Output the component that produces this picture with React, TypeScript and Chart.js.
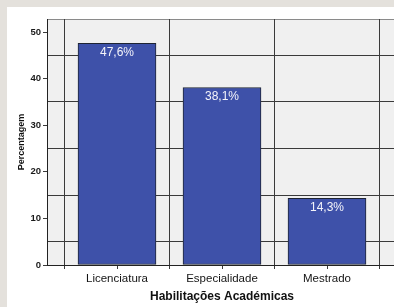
import React, { useEffect, useRef } from 'react';
import { Chart, registerables } from 'chart.js';

Chart.register(...registerables);

const categories: string[] = ['Licenciatura', 'Especialidade', 'Mestrado'];
const percentages: number[] = [47.6, 38.1, 14.3];
const yTickLabels: number[] = [0, 10, 20, 30, 40, 50];
const yGridValues: number[] = [5, 15, 25, 35, 45];
const yMax = 52.8;
const xTitle = 'Habilitações Académicas';
const yTitle = 'Percentagem';

const FONT = "'Liberation Sans', Arial, sans-serif";
const DARK = '#3a3a3a';

const isIn = (arr: number[], v: number) => arr.some((a) => Math.abs(a - v) < 1e-6);

const plotBg = {
  id: 'plotBg',
  beforeDraw(chart: any) {
    const { ctx, chartArea } = chart;
    ctx.save();
    ctx.fillStyle = '#f0f0f0';
    ctx.fillRect(chartArea.left, chartArea.top, chartArea.right - chartArea.left, chartArea.bottom - chartArea.top);
    ctx.strokeStyle = '#8a8a8a';
    ctx.lineWidth = 1;
    ctx.beginPath();
    ctx.moveTo(chartArea.left, chartArea.top + 0.5);
    ctx.lineTo(chartArea.right, chartArea.top + 0.5);
    ctx.stroke();
    ctx.restore();
  },
};

const barLabels = {
  id: 'barLabels',
  afterDatasetsDraw(chart: any) {
    const { ctx } = chart;
    const meta = chart.getDatasetMeta(0);
    ctx.save();
    ctx.fillStyle = '#f4f4fa';
    ctx.font = `12px ${FONT}`;
    ctx.textAlign = 'center';
    ctx.textBaseline = 'middle';
    meta.data.forEach((bar: any, i: number) => {
      const txt = percentages[i].toFixed(1).replace('.', ',') + '%';
      ctx.fillText(txt, bar.x, bar.y + 9.5);
    });
    ctx.restore();
  },
};

export default function App() {
  const ref = useRef<HTMLCanvasElement>(null);

  useEffect(() => {
    if (!ref.current) return;
    const chart = new Chart(ref.current, {
      type: 'bar',
      data: {
        datasets: [
          {
            data: percentages.map((v, i) => ({ x: i, y: v })),
            backgroundColor: '#3e51a9',
            borderColor: '#1e2433',
            borderWidth: 1,
            borderSkipped: false,
            barThickness: 78,
          },
        ],
      },
      options: {
        animation: false,
        responsive: false,
        maintainAspectRatio: false,
        layout: { padding: { top: 19, left: 12, right: 23, bottom: 0 } },
        plugins: { legend: { display: false }, tooltip: { enabled: false } },
        scales: {
          x: {
            type: 'linear',
            min: -2 / 3,
            max: categories.length - 1 + 2 / 3,
            offset: false,
            afterBuildTicks: (axis: any) => {
              const vals: number[] = [];
              for (let i = 0; i < categories.length; i++) {
                vals.push(i - 0.5, i);
              }
              vals.push(categories.length - 0.5);
              axis.ticks = vals.map((v) => ({ value: v }));
            },
            afterFit: (s: any) => {
              s.height = 42;
            },
            grid: {
              offset: false,
              color: (c: any) => (c.tick && !Number.isInteger(c.tick.value) ? DARK : 'transparent'),
              tickColor: DARK,
              tickLength: 4,
              lineWidth: 1,
            },
            border: { display: true, color: '#222', width: 1 },
            ticks: {
              autoSkip: false,
              maxRotation: 0,
              padding: 3,
              color: '#141414',
              font: { family: FONT, size: 11.5 },
              callback: (v: any) => (Number.isInteger(v) ? categories[v] : ''),
            },
            title: {
              display: true,
              text: xTitle,
              color: '#111',
              font: { family: FONT, size: 12, weight: 'bold' },
              padding: { top: 2, bottom: 3 },
            },
          },
          y: {
            min: 0,
            max: yMax,
            afterBuildTicks: (axis: any) => {
              const vals = [...yTickLabels, ...yGridValues].sort((a, b) => a - b);
              axis.ticks = vals.map((v) => ({ value: v }));
            },
            afterFit: (s: any) => {
              s.width = 35;
            },
            grid: {
              color: (c: any) => (c.tick && isIn(yGridValues, c.tick.value) ? DARK : 'transparent'),
              tickColor: (c: any) => (c.tick && isIn(yTickLabels, c.tick.value) ? DARK : 'transparent'),
              tickLength: 4,
              lineWidth: 1,
            },
            border: { display: true, color: '#222', width: 1 },
            ticks: {
              padding: 2,
              color: '#1a1a1a',
              font: { family: FONT, size: 9.5, weight: 'bold' },
              callback: (v: any) => (isIn(yTickLabels, v) ? String(v) : ''),
            },
            title: {
              display: true,
              text: yTitle,
              color: '#111',
              font: { family: FONT, size: 9, weight: 'bold' },
              padding: { top: 4, bottom: 4 },
            },
          },
        },
      },
      plugins: [plotBg, barLabels],
    } as any);
    return () => chart.destroy();
  }, []);

  return (
    <div
      style={{
        position: 'fixed',
        left: 0,
        top: 0,
        width: 394,
        height: 307,
        overflow: 'hidden',
        background: '#e4e1dc',
      }}
    >
      <div style={{ position: 'absolute', left: 7, top: 7, right: 0, bottom: 0, background: '#ffffff' }} />
      <canvas
        ref={ref}
        width={420}
        height={307}
        style={{ position: 'absolute', left: 0, top: 0, width: 420, height: 307 }}
      />
    </div>
  );
}
